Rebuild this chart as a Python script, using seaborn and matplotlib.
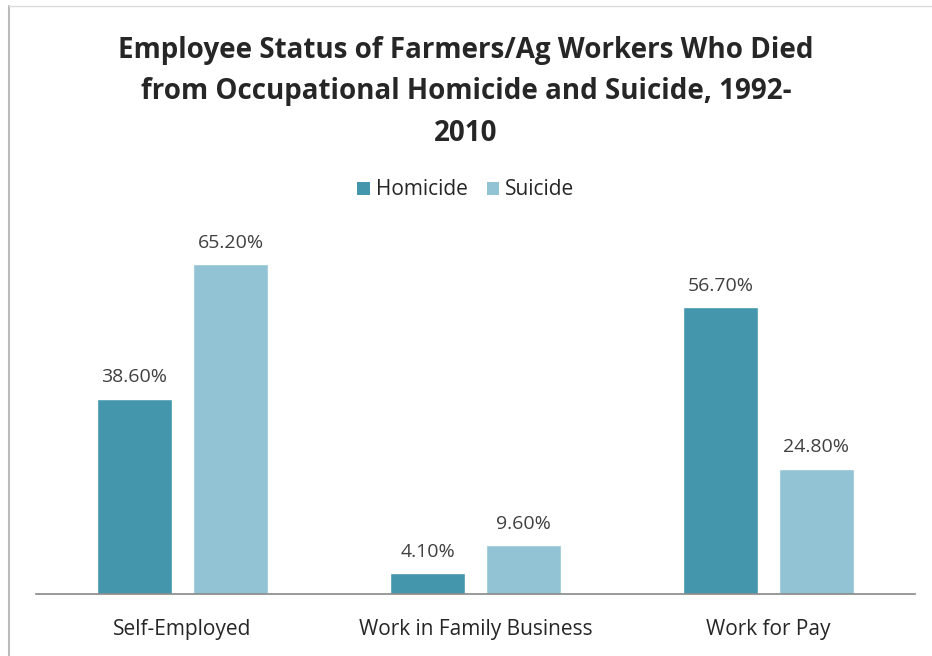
import matplotlib
matplotlib.use("Agg")
import matplotlib.pyplot as plt
import seaborn as sns
import pandas as pd
from matplotlib.lines import Line2D
from matplotlib.patches import Patch

categories = ["Self-Employed", "Work in Family Business", "Work for Pay"]
series = ["Homicide", "Suicide"]
homicide = [38.6, 4.1, 56.7]
suicide = [65.2, 9.6, 24.8]
colors = ["#4396AC", "#92C3D5"]

df = pd.DataFrame({
    "status": categories * 2,
    "type": [series[0]] * 3 + [series[1]] * 3,
    "pct": homicide + suicide,
})

sns.set_theme(style="white")
plt.rcParams["font.family"] = ["Open Sans", "DejaVu Sans"]

W, H = 932, 656
fig = plt.figure(figsize=(W / 100, H / 100), dpi=100)
ax = fig.add_axes([36 / W, (H - 594) / H, (915 - 36) / W, (594 - 240) / H])

sns.barplot(data=df, x="status", y="pct", hue="type", order=categories,
            hue_order=series, palette=colors, width=0.655, gap=0.22,
            saturation=1, legend=False, ax=ax)

ax.set_xlim(-0.5, 2.5)
ax.set_ylim(0, 70)
ax.set_xlabel("")
ax.set_ylabel("")
ax.set_yticks([])
for s in ["top", "right", "left"]:
    ax.spines[s].set_visible(False)
ax.spines["bottom"].set_color("#888888")
ax.spines["bottom"].set_linewidth(1.2)
ax.tick_params(axis="x", length=0, pad=18)
for lbl in ax.get_xticklabels():
    lbl.set_fontsize(15)
    lbl.set_color("#262626")

for cont in ax.containers:
    ax.bar_label(cont, labels=[f"{v:.2f}%" for v in cont.datavalues],
                 padding=9, fontsize=14, color="#404040")

fig.text(0.5, 1 - 92 / H,
         "Employee Status of Farmers/Ag Workers Who Died\n"
         "from Occupational Homicide and Suicide, 1992-\n2010",
         ha="center", va="center", fontsize=20, fontweight="bold",
         color="#262626", linespacing=1.55)

handles = [Patch(facecolor=c, edgecolor="none") for c in colors]
fig.legend(handles, series, loc="center", bbox_to_anchor=(0.5, 1 - 190 / H),
           ncol=2, frameon=False, fontsize=15, handlelength=0.6,
           handleheight=0.6, handletextpad=0.3, columnspacing=0.9,
           labelcolor="#262626")

# chart frame edges
fig.add_artist(Line2D([9 / W, 9 / W], [0, 1 - 6 / H], color="#bbbbbb",
                      lw=1.5, transform=fig.transFigure))
fig.add_artist(Line2D([9 / W, 1], [1 - 6 / H, 1 - 6 / H], color="#dddddd",
                      lw=1.0, transform=fig.transFigure))

fig.savefig("out.png", dpi=100, facecolor="white")
